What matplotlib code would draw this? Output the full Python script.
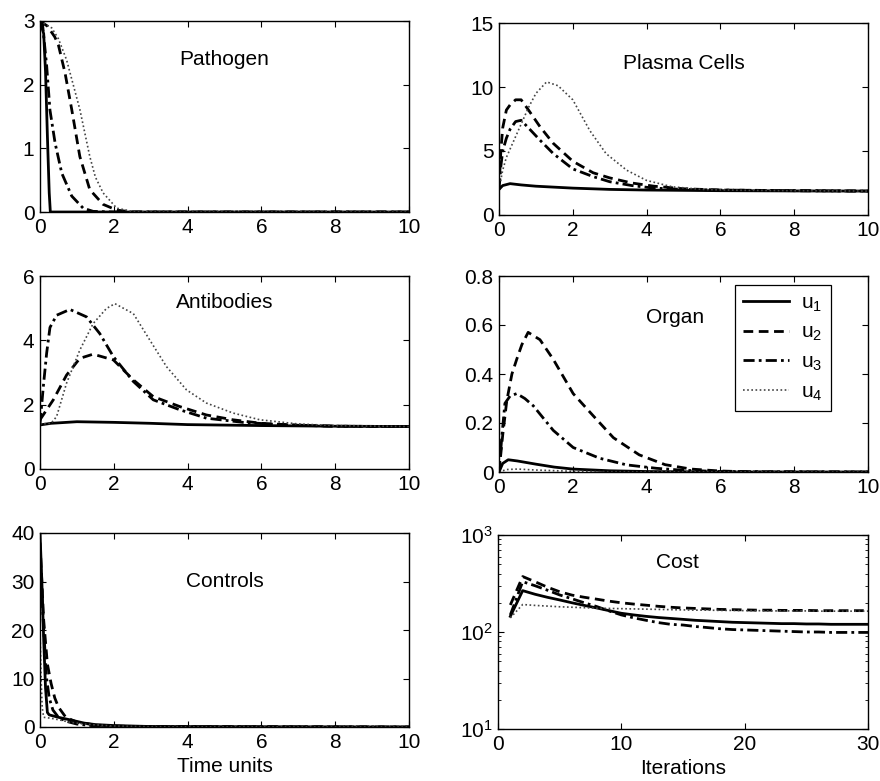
import matplotlib
matplotlib.use("Agg")
import matplotlib.pyplot as plt

plt.rcParams['font.family'] = ['Liberation Sans', 'DejaVu Sans']
plt.rcParams['mathtext.fontset'] = 'custom'
plt.rcParams['mathtext.rm'] = 'Liberation Sans'
plt.rcParams['mathtext.it'] = 'Liberation Sans'

labels = ["u$_1$", "u$_2$", "u$_3$", "u$_4$"]

# Pathogen
path_t1 = [0, 0.1, 0.15, 0.2, 0.25, 0.28, 10]
path_y1 = [3, 2.8, 2.2, 1.2, 0.3, 0, 0]
path_t2 = [0, 0.2, 0.4, 0.5, 0.68, 0.86, 1.08, 1.35, 1.71, 2.08, 2.5, 10]
path_y2 = [3, 2.92, 2.75, 2.62, 2.18, 1.61, 0.87, 0.35, 0.12, 0.03, 0, 0]
path_t3 = [0, 0.07, 0.18, 0.27, 0.41, 0.59, 0.86, 1.17, 1.44, 2.0, 10]
path_y3 = [3, 2.94, 2.3, 1.6, 1.08, 0.61, 0.25, 0.06, 0.01, 0, 0]
path_t4 = [0, 0.32, 0.5, 0.72, 0.9, 1.08, 1.35, 1.5, 1.71, 2.08, 2.5, 3, 10]
path_y4 = [3, 2.89, 2.72, 2.39, 2.0, 1.61, 0.87, 0.55, 0.3, 0.06, 0.01, 0, 0]

# Plasma cells
plas_t1 = [0, 0.1, 0.3, 0.6, 1, 2, 3, 4, 6, 8, 10]
plas_y1 = [2.0, 2.3, 2.45, 2.35, 2.25, 2.1, 2.0, 1.95, 1.9, 1.88, 1.87]
plas_t2 = [0, 0.05, 0.1, 0.2, 0.3, 0.45, 0.6, 0.8, 1.11, 1.47, 2.0, 2.55, 3.0, 3.6, 4.2, 5, 6, 8, 10]
plas_y2 = [2, 5, 6.8, 8.2, 8.6, 9.0, 9.0, 8.2, 6.9, 5.6, 4.2, 3.3, 2.9, 2.5, 2.25, 2.05, 1.95, 1.9, 1.87]
plas_t3 = [0, 0.05, 0.1, 0.2, 0.3, 0.45, 0.6, 0.8, 1.11, 1.47, 2.0, 2.55, 3.0, 3.6, 4.2, 5, 6, 8, 10]
plas_y3 = [2, 3.8, 5.0, 6.0, 6.7, 7.3, 7.4, 6.8, 5.85, 4.8, 3.6, 3.0, 2.6, 2.3, 2.1, 2.0, 1.95, 1.9, 1.87]
plas_t4 = [0, 0.1, 0.2, 0.4, 0.6, 0.8, 1.0, 1.29, 1.6, 2.0, 2.46, 2.9, 3.46, 4.0, 4.7, 5.5, 6.5, 8, 10]
plas_y4 = [2, 3.5, 4.5, 5.8, 7.1, 8.4, 9.5, 10.4, 10.1, 9.0, 6.6, 4.8, 3.5, 2.7, 2.2, 2.0, 1.93, 1.9, 1.87]

# Antibodies
anti_t1 = [0, 0.3, 1, 2, 3, 4, 6, 8, 10]
anti_y1 = [1.37, 1.42, 1.47, 1.45, 1.42, 1.38, 1.35, 1.33, 1.32]
anti_t2 = [0, 0.36, 0.72, 1.08, 1.44, 1.99, 2.53, 3.07, 3.79, 4.51, 5.23, 6, 7, 8, 10]
anti_y2 = [1.53, 2.15, 2.92, 3.44, 3.57, 3.39, 2.77, 2.25, 1.94, 1.68, 1.53, 1.42, 1.36, 1.33, 1.32]
anti_t3 = [0, 0.09, 0.18, 0.27, 0.45, 0.81, 1.26, 1.62, 1.99, 2.53, 3.07, 3.79, 4.51, 5.5, 6.5, 8, 10]
anti_y3 = [1.4, 2.56, 3.6, 4.4, 4.78, 4.96, 4.73, 4.21, 3.49, 2.72, 2.15, 1.84, 1.58, 1.45, 1.38, 1.33, 1.32]
anti_t4 = [0, 0.3, 0.45, 0.72, 1.08, 1.44, 1.8, 2.03, 2.53, 2.98, 3.43, 3.97, 4.51, 5.23, 5.96, 7, 8, 10]
anti_y4 = [1.4, 1.42, 1.63, 2.67, 3.7, 4.52, 4.99, 5.14, 4.83, 4.0, 3.18, 2.46, 2.05, 1.74, 1.53, 1.4, 1.35, 1.32]

# Organ
org_t1 = [0, 0.1, 0.25, 0.5, 1, 1.5, 2, 3, 4, 6, 10]
org_y1 = [0, 0.035, 0.05, 0.045, 0.032, 0.02, 0.012, 0.005, 0.002, 0, 0]
org_t2 = [0, 0.1, 0.21, 0.35, 0.48, 0.62, 0.79, 1.11, 1.47, 2.01, 2.55, 3.1, 3.8, 4.5, 5.2, 6, 7, 10]
org_y2 = [0, 0.15, 0.29, 0.4, 0.46, 0.52, 0.57, 0.54, 0.46, 0.32, 0.23, 0.14, 0.07, 0.03, 0.012, 0.004, 0, 0]
org_t3 = [0, 0.08, 0.16, 0.3, 0.48, 0.7, 0.93, 1.2, 1.47, 2.01, 2.73, 3.46, 4.27, 5, 6, 10]
org_y3 = [0, 0.15, 0.28, 0.31, 0.32, 0.3, 0.27, 0.22, 0.17, 0.10, 0.056, 0.029, 0.015, 0.007, 0.002, 0]
org_t4 = [0, 0.2, 0.5, 1, 2, 3, 10]
org_y4 = [0, 0.01, 0.012, 0.008, 0.003, 0.001, 0]

# Controls
ctl_t1 = [0, 0.05, 0.1, 0.15, 0.2, 0.25, 0.5, 0.8, 1.2, 1.5, 2, 3, 10]
ctl_y1 = [40, 30, 18, 8, 3, 2.5, 2.0, 1.5, 0.8, 0.5, 0.3, 0.1, 0]
ctl_t2 = [0, 0.05, 0.1, 0.2, 0.3, 0.4, 0.5, 0.7, 1, 1.5, 2, 3, 10]
ctl_y2 = [38, 30, 22, 13, 9, 6, 4.1, 2, 1, 0.4, 0.2, 0.05, 0]
ctl_t3 = [0, 0.05, 0.1, 0.18, 0.25, 0.35, 0.5, 0.7, 1, 1.5, 2, 10]
ctl_y3 = [36, 28, 20, 10, 6, 3.5, 2, 1.2, 0.6, 0.2, 0.1, 0]
ctl_t4 = [0, 0.03, 0.06, 0.1, 0.3, 0.5, 0.8, 1.2, 2, 3, 10]
ctl_y4 = [20, 10, 4, 2, 1.8, 1.5, 1.0, 0.6, 0.2, 0.05, 0]

# Cost per iteration
iters = list(range(1, 31))
cost1 = [145, 267, 245, 228, 214, 200, 188, 177, 166, 156, 150, 145, 141, 138, 135,
         132, 130, 128, 126, 125, 124, 123, 122, 122, 121, 121, 120, 120, 120, 120]
cost2 = [190, 373, 330, 290, 260, 240, 228, 218, 208, 200, 194, 189, 184, 180, 177,
         175, 173, 171, 170, 169, 168, 168, 167, 167, 167, 166, 166, 166, 166, 166]
cost3 = [150, 330, 300, 270, 241, 220, 200, 183, 165, 150, 140, 132, 125, 120, 118,
         114, 111, 108, 106, 105, 104, 103, 102, 101, 100, 100, 99, 99, 99, 99]
cost4 = [140, 192, 188, 185, 182, 180, 178, 176, 175, 174, 173, 172, 171, 170, 169,
         168, 168, 167, 167, 166, 166, 165, 165, 165, 165, 164, 164, 164, 164, 164]

styles = [
    dict(color='black', lw=2.0, ls='-'),
    dict(color='black', lw=2.0, ls=(0, (3.5, 2))),
    dict(color='black', lw=2.0, ls=(0, (4, 1.5, 1, 1.5))),
    dict(color='#444444', lw=1.2, ls=(0, (1, 1.5))),
]

FS = 15
W, H = 880, 781
fig = plt.figure(figsize=(W / 100, H / 100), dpi=100)


def make_ax(left, right, top, bottom):
    return fig.add_axes([left / W, (H - bottom) / H, (right - left) / W, (bottom - top) / H])


def style_ax(ax):
    ax.tick_params(direction='in', top=True, right=True, labelsize=FS, length=4,
                   width=0.8, pad=4)
    ax.tick_params(axis='y', pad=4)
    for s in ax.spines.values():
        s.set_linewidth(1.0)


panels = [
    ((40, 409, 21, 212), "Pathogen", (0.5, 0.80),
     [(path_t1, path_y1), (path_t2, path_y2), (path_t3, path_y3), (path_t4, path_y4)],
     (0, 3), [0, 1, 2, 3]),
    ((499, 868, 23, 215), "Plasma Cells", (0.5, 0.79),
     [(plas_t1, plas_y1), (plas_t2, plas_y2), (plas_t3, plas_y3), (plas_t4, plas_y4)],
     (0, 15), [0, 5, 10, 15]),
    ((40, 409, 276, 469), "Antibodies", (0.5, 0.865),
     [(anti_t1, anti_y1), (anti_t2, anti_y2), (anti_t3, anti_y3), (anti_t4, anti_y4)],
     (0, 6), [0, 2, 4, 6]),
    ((499, 868, 276, 472), "Organ", (0.477, 0.79),
     [(org_t1, org_y1), (org_t2, org_y2), (org_t3, org_y3), (org_t4, org_y4)],
     (0, 0.8), [0, 0.2, 0.4, 0.6, 0.8]),
    ((40, 409, 533, 727), "Controls", (0.5, 0.75),
     [(ctl_t1, ctl_y1), (ctl_t2, ctl_y2), (ctl_t3, ctl_y3), (ctl_t4, ctl_y4)],
     (0, 40), [0, 10, 20, 30, 40]),
]

axes = []
for rect, title, tpos, series, ylim, yticks in panels:
    ax = make_ax(*rect)
    for (t, y), st, lab in zip(series, styles, labels):
        ax.plot(t, y, label=lab, **st)
    ax.set_xlim(0, 10)
    ax.set_ylim(*ylim)
    ax.set_xticks([0, 2, 4, 6, 8, 10])
    ax.set_yticks(yticks)
    ax.set_yticklabels([('%g' % v) for v in yticks])
    ax.text(tpos[0], tpos[1], title, transform=ax.transAxes, ha='center', va='center',
            fontsize=FS)
    style_ax(ax)
    axes.append(ax)

# legend in the organ panel
leg = axes[3].legend(loc='upper right', bbox_to_anchor=(0.90, 0.954), fontsize=FS,
                     frameon=True, fancybox=False, edgecolor='black', framealpha=1,
                     handlelength=2.2, labelspacing=0.45, borderpad=0.4,
                     handletextpad=0.6, borderaxespad=0)
leg.get_frame().set_linewidth(0.9)

axes[4].set_xlabel("Time units", fontsize=FS, labelpad=4)

# Cost panel
axc = make_ax(498, 868, 535, 729)
for cost, st in zip([cost1, cost2, cost3, cost4], styles):
    axc.plot(iters, cost, **st)
axc.set_yscale('log')
axc.set_xlim(0, 30)
axc.set_ylim(10, 1000)
axc.set_xticks([0, 10, 20, 30])
axc.text(0.486, 0.86, "Cost", transform=axc.transAxes, ha='center', va='center',
         fontsize=FS)
style_ax(axc)
axc.tick_params(which='minor', direction='in', top=True, right=True, length=2)
axc.set_xlabel("Iterations", fontsize=FS, labelpad=4)

fig.savefig("out.png", dpi=100)
